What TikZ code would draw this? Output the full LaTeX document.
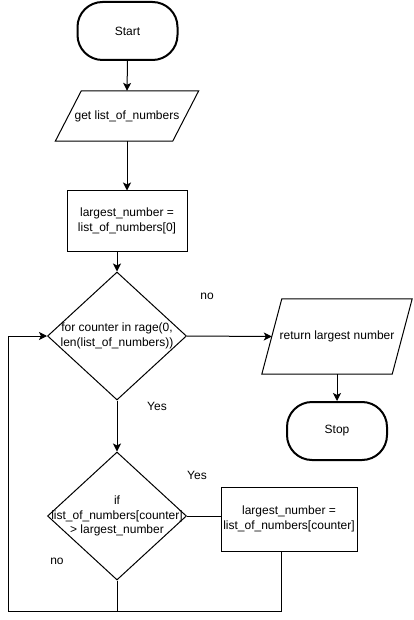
\documentclass[tikz,border=0pt]{standalone}
\usepackage{fontspec}
\setmainfont{Liberation Sans}
\usetikzlibrary{shapes.geometric,arrows.meta}

\begin{document}
\begin{tikzpicture}[x=1pt,y=-1pt,
		font=\fontsize{12}{14.5}\selectfont,
		terminal/.style={draw,line width=2pt,rounded corners=25pt,minimum width=100pt,minimum height=58pt,inner sep=0pt},
		io/.style={inner sep=0pt},
		process/.style={draw,line width=1pt,minimum width=120pt,minimum height=60pt,align=center,inner sep=0pt},
		decision/.style={draw,line width=1pt,diamond,minimum width=139pt,minimum height=128pt,inner sep=0pt},
		flow/.style={line width=1pt,-{Stealth[length=8pt,width=8pt,inset=2pt]}}]
		\useasboundingbox (0,0) rectangle (413,620);
		% boxes
		\node[terminal] (start) at (127.5,31) {Start};
		\node[io,minimum width=117pt,minimum height=50pt] (getlist) at (127,116) {get list\_of\_numbers};
		\draw[line width=1pt] ([xshift=13pt]getlist.north west) -- ([xshift=13pt]getlist.north east) -- ([xshift=-13pt]getlist.south east) -- ([xshift=-13pt]getlist.south west) -- cycle;
		\node[process] (init) at (127,221) {largest\_number =\\list\_of\_numbers[0]};
		\node[decision,label={[align=center]center:for counter in rage(0,\\len(list\_of\_numbers))}] (loop) at (117,336) {};
		\node[io,minimum width=130pt,minimum height=75pt] (ret) at (337,336.5) {return largest number};
		\draw[line width=1pt] ([xshift=10pt]ret.north west) -- ([xshift=10pt]ret.north east) -- ([xshift=-10pt]ret.south east) -- ([xshift=-10pt]ret.south west) -- cycle;
		\node[terminal] (stop) at (337,431) {Stop};
		\node[decision,label={[align=center]center:if\\list\_of\_numbers[counter]\\> largest\_number}] (check) at (117,516) {};
		\node[process,minimum width=136pt,minimum height=64pt] (update) at (289,519) {largest\_number =\\list\_of\_numbers[counter]};
		% labels
		\node (no1) at (207,296) {no};
		\node (yes1) at (157,406) {Yes};
		\node (yes2) at (197,475) {Yes};
		\node (no2) at (57,561) {no};
		\coordinate (corner) at (8,611);
		% connectors
		\draw[flow] (start.south) -- (getlist.north);
		\draw[flow] (getlist.south) -- (init.north);
		\draw[flow] (loop.north |- init.south) -- (loop.north);
		\draw[flow] (loop.east) -- (ret.west);
		\draw[flow] (ret.south) -- (stop.north);
		\draw[flow] (loop.south) -- (check.north);
		\draw[line width=1pt] (check.east) -- (check.east -| update.west);
		\draw[line width=1pt] (check.south) -- (check.south |- corner);
		\draw[flow] ([xshift=-8pt]update.south) |- (corner) |- (loop.west);
	\end{tikzpicture}
\end{document}
